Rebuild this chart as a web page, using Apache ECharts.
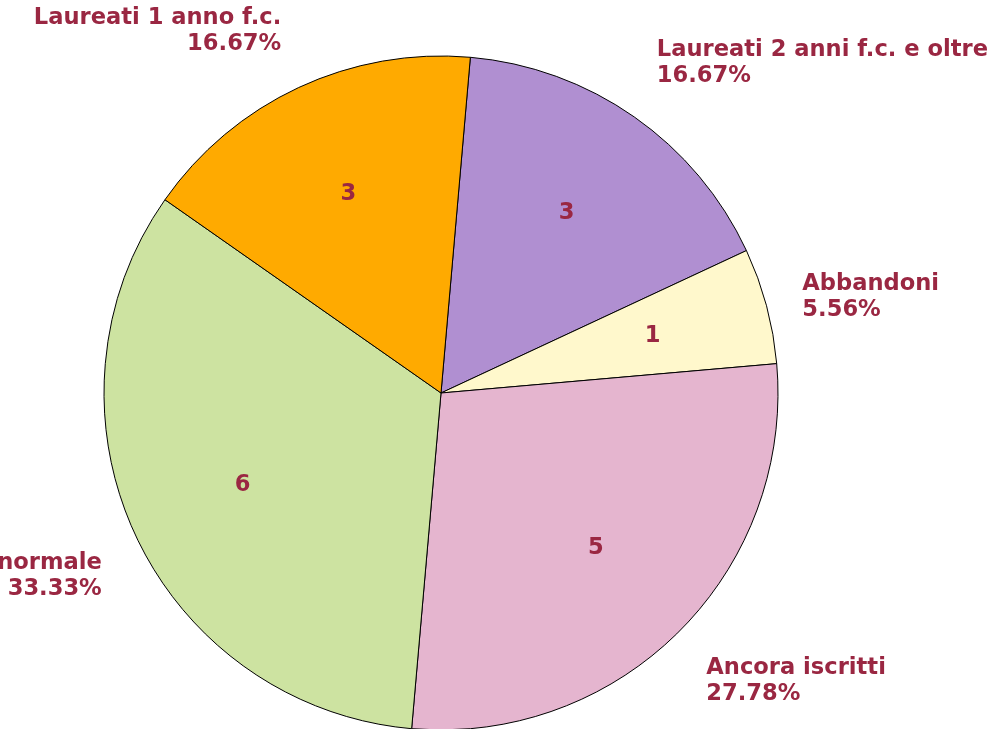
<!DOCTYPE html>
<html>
<head>
<meta charset="utf-8">
<script src="https://cdn.jsdelivr.net/npm/echarts@6/dist/echarts.min.js"></script>
<style>
html, body { margin: 0; padding: 0; background: #fff; }
#chart { width: 1001px; height: 729px; }
</style>
</head>
<body>
<div id="chart"></div>
<script>
// dati
var categories = ['Laureati 2 anni f.c. e oltre', 'Abbandoni', 'Ancora iscritti', 'Laureati durata normale', 'Laureati 1 anno f.c.'];
var counts = [3, 1, 5, 6, 3];
var colors = ['#b08fd1', '#fff8cc', '#e5b5cf', '#cde3a1', '#ffaa00'];

var total = counts.reduce(function (a, b) { return a + b; }, 0);
var center = [441, 393];
var labelColor = '#9a2742';
var font = { fontFamily: 'DejaVu Sans', fontWeight: 'bold', fontSize: 22.6 };

function pieData(transparent) {
    return categories.map(function (name, i) {
        return {
            name: name,
            value: counts[i],
            itemStyle: { color: transparent ? 'rgba(0,0,0,0)' : colors[i] }
        };
    });
}

var myChart = echarts.init(document.getElementById('chart'));

var option = {
    animation: false,
    backgroundColor: '#fff',
    series: [{
        name: 'esiti',
        type: 'pie',
        center: center,
        radius: 337,
        startAngle: 85,
        clockwise: true,
        avoidLabelOverlap: false,
        data: pieData(false),
        itemStyle: { borderColor: '#000', borderWidth: 1 },
        emphasis: { disabled: true },
        label: {
            show: true,
            position: 'outside',
            distanceToLabelLine: 3,
            fontFamily: font.fontFamily,
            fontWeight: font.fontWeight,
            fontSize: font.fontSize,
            lineHeight: 26,
            color: labelColor,
            formatter: function (p) {
                return p.name + '\n' + (p.value / total * 100).toFixed(2) + '%';
            }
        },
        labelLine: { show: false, length: 34, length2: 0 },
        // etichette sopra/sotto la torta: allineate col bordo vicino
        labelLayout: function (params) {
            var r = params.labelRect;
            var ax = params.align === 'right' ? r.x + r.width : (params.align === 'left' ? r.x : r.x + r.width / 2);
            var ay = r.y + r.height / 2;
            var mx = ax - center[0], my = ay - center[1];
            var s = -my / Math.sqrt(mx * mx + my * my);
            if (s > 0.3) return { verticalAlign: 'bottom' };
            if (s < -0.3) return { verticalAlign: 'top' };
            return {};
        }
    }, {
        name: 'valori',
        type: 'pie',
        center: center,
        radius: [95, 337],
        startAngle: 85,
        clockwise: true,
        silent: true,
        data: pieData(true),
        itemStyle: { borderWidth: 0 },
        emphasis: { disabled: true },
        label: {
            show: true,
            position: 'inside',
            fontFamily: font.fontFamily,
            fontWeight: font.fontWeight,
            fontSize: font.fontSize,
            color: labelColor,
            formatter: '{c}'
        },
        labelLine: { show: false }
    }]
};

myChart.setOption(option);
</script>
</body>
</html>
